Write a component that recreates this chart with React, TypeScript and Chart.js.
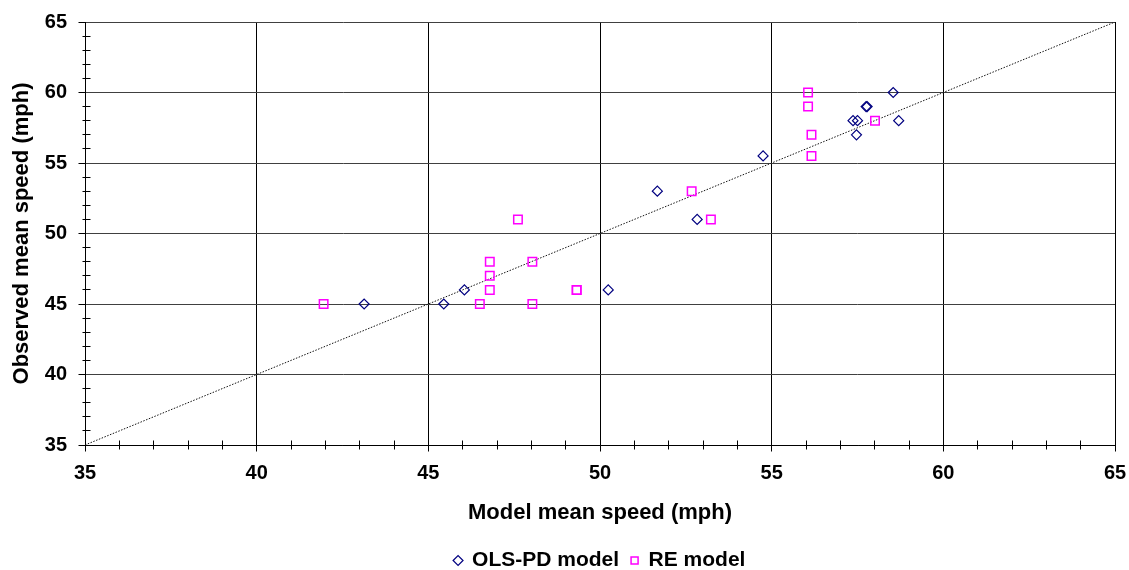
import React, { useEffect, useRef } from 'react';
import { Chart, registerables } from 'chart.js';

Chart.register(...registerables);

// ---- data ----
const olsX = [43.13, 45.45, 46.05, 50.24, 51.67, 52.83, 54.75, 57.37, 57.5, 57.47, 57.75, 57.78, 58.54, 58.7];
const olsY = [45, 45, 46, 46, 53, 51, 55.5, 58, 58, 57, 59, 59, 60, 58];

const reX = [41.95, 46.5, 46.79, 46.79, 46.79, 47.61, 48.03, 48.03, 49.32, 49.32, 52.67, 53.23, 56.06, 56.06, 56.16, 56.16, 58.01];
const reY = [45, 45, 46, 47, 48, 51, 48, 45, 46, 46, 53, 51, 60, 59, 57, 55.5, 58];

const refLineX = [35, 65];
const refLineY = [35, 65];

const axisMin = 35;
const axisMax = 65;
const majorStep = 5;
const minorStep = 1;

const seriesNames = ['OLS-PD model', 'RE model'];
const xTitle = 'Model mean speed (mph)';
const yTitle = 'Observed mean speed (mph)';

const FONT = "'Liberation Sans', Arial, sans-serif";

const align = (p: number) => Math.round(p - 0.5) + 0.5;

const minorTicksPlugin = {
  id: 'minorTicks',
  afterDraw(chart: any) {
    const { ctx, chartArea, scales } = chart;
    const xs = scales.x;
    const ys = scales.y;
    const ax = align(chartArea.left);
    const ay = align(chartArea.bottom);
    ctx.save();
    ctx.strokeStyle = '#000';
    ctx.lineWidth = 1;
    ctx.beginPath();
    for (let v = axisMin; v <= axisMax; v += minorStep) {
      const major = (v - axisMin) % majorStep === 0;
      const py = align(ys.getPixelForValue(v));
      const px = align(xs.getPixelForValue(v));
      if (major) {
        ctx.moveTo(ax - 7, py);
        ctx.lineTo(ax, py);
        ctx.moveTo(px, ay);
        ctx.lineTo(px, ay + 6);
      } else {
        ctx.moveTo(ax - 3, py);
        ctx.lineTo(ax + 5, py);
        ctx.moveTo(px, ay - 5);
        ctx.lineTo(px, ay + 4);
      }
    }
    ctx.stroke();
    ctx.restore();
  },
};

export default function App() {
  const canvasRef = useRef<HTMLCanvasElement | null>(null);

  useEffect(() => {
    if (!canvasRef.current) return;
    Chart.defaults.font.family = FONT;
    Chart.defaults.color = '#000';

    const chart = new Chart(canvasRef.current, {
      type: 'scatter',
      data: {
        datasets: [
          {
            label: seriesNames[0],
            data: olsX.map((x, i) => ({ x, y: olsY[i] })),
            pointStyle: 'rectRot',
            pointRadius: 5,
            pointHoverRadius: 5,
            borderColor: '#000080',
            backgroundColor: 'rgba(0,0,0,0)',
            borderWidth: 1.2,
            order: 1,
          },
          {
            label: seriesNames[1],
            data: reX.map((x, i) => ({ x, y: reY[i] })),
            pointStyle: 'rect',
            pointRadius: 6,
            pointHoverRadius: 6,
            borderColor: '#FF00FF',
            backgroundColor: 'rgba(0,0,0,0)',
            borderWidth: 1.5,
            order: 2,
          },
          {
            label: 'ref',
            data: refLineX.map((x, i) => ({ x, y: refLineY[i] })),
            showLine: true,
            pointRadius: 0,
            borderColor: '#111',
            borderWidth: 1,
            borderDash: [1.5, 1.5],
            order: 3,
          } as any,
        ],
      },
      options: {
        responsive: false,
        animation: false,
        events: [],
        layout: { autoPadding: false, padding: { top: 22, right: 14, bottom: -11, left: 0 } },
        plugins: {
          tooltip: { enabled: false },
          legend: {
            position: 'bottom',
            fullSize: false,
            labels: {
              usePointStyle: true,
              boxWidth: 7,
              boxHeight: 7,
              padding: 12,
              color: '#000',
              font: { size: 21, weight: 'bold', family: FONT },
              filter: (item: any) => item.datasetIndex < 2,
            },
          },
        },
        scales: {
          x: {
            type: 'linear',
            min: axisMin,
            max: axisMax,
            afterFit: (s: any) => {
              s.height = 93;
              s.paddingLeft = 0;
              s.paddingRight = 0;
            },
            ticks: {
              stepSize: majorStep,
              padding: 16,
              color: '#000',
              font: { size: 20, weight: 'bold', family: FONT },
              maxRotation: 0,
            },
            grid: { color: '#000', lineWidth: 1, drawTicks: false },
            border: { display: true, color: '#000', width: 1 },
            title: {
              display: true,
              text: xTitle,
              color: '#000',
              font: { size: 22, weight: 'bold', family: FONT },
              padding: { top: 0, bottom: 12 },
            },
          },
          y: {
            type: 'linear',
            min: axisMin,
            max: axisMax,
            afterFit: (s: any) => {
              s.width = 85;
              s.paddingTop = 0;
              s.paddingBottom = 0;
            },
            ticks: {
              stepSize: majorStep,
              padding: 18,
              color: '#000',
              font: { size: 20, weight: 'bold', family: FONT },
            },
            grid: { color: '#404040', lineWidth: 1, drawTicks: false },
            border: { display: true, color: '#000', width: 1 },
            title: {
              display: true,
              text: yTitle,
              color: '#000',
              font: { size: 22, weight: 'bold', family: FONT },
              padding: { top: 9, bottom: 0 },
            },
          },
        },
      } as any,
      plugins: [minorTicksPlugin],
    });

    return () => chart.destroy();
  }, []);

  return (
    <div style={{ position: 'fixed', left: 0, top: 0, width: 1129, height: 570, background: '#fff' }}>
      <canvas ref={canvasRef} width={1129} height={570} style={{ display: 'block' }} />
    </div>
  );
}
